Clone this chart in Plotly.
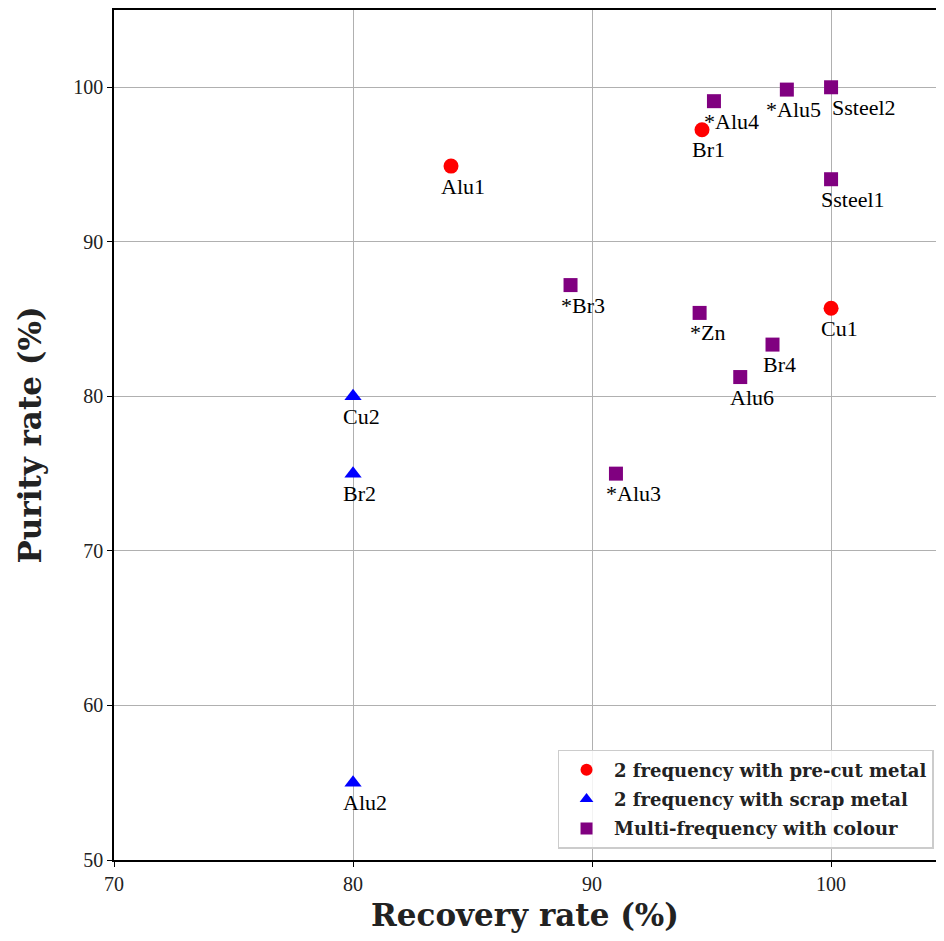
import plotly.graph_objects as go

# 2 frequency with pre-cut metal
precut_names = ["Alu1", "Br1", "Cu1"]
precut_recovery = [84.1, 94.6, 100.0]
precut_purity = [94.9, 97.25, 85.7]

# 2 frequency with scrap metal
scrap_names = ["Cu2", "Br2", "Alu2"]
scrap_recovery = [80.0, 80.0, 80.0]
scrap_purity = [80.0, 75.0, 55.0]

# Multi-frequency with colour
multi_names = ["*Alu4", "*Alu5", "Ssteel2", "Ssteel1", "*Br3", "*Zn", "Br4", "Alu6", "*Alu3"]
multi_recovery = [95.1, 98.15, 100.0, 100.0, 89.1, 94.5, 97.55, 96.2, 91.0]
multi_purity = [99.1, 99.85, 100.0, 94.05, 87.2, 85.4, 83.35, 81.25, 75.0]

x_ticks = [70, 80, 90, 100]
y_ticks = [50, 60, 70, 80, 90, 100]

# label nudges (pixels) for crowded labels
label_xshift = {"*Alu5": -23, "Ssteel2": -1}

SERIF = "Liberation Serif"
BOLD = "DejaVu Serif"

fig = go.Figure()
series = [
    (precut_names, precut_recovery, precut_purity, "circle", 15, "red", "2 frequency with pre-cut metal"),
    (scrap_names, scrap_recovery, scrap_purity, "triangle-up", 15, "blue", "2 frequency with scrap metal"),
    (multi_names, multi_recovery, multi_purity, "square", 14, "purple", "Multi-frequency with colour"),
]
for i, (names, xs, ys, sym, sz, col, nm) in enumerate(series):
    fig.add_trace(go.Scatter(
        x=xs, y=ys, mode="markers",
        marker=dict(symbol=sym, size=sz, color=col),
        name="<b>" + nm + "</b>", legendgroup="g%d" % i))
    for n, xv, yv in zip(names, xs, ys):
        fig.add_annotation(
            x=xv, y=yv, text=n, showarrow=False,
            xanchor="left", yanchor="middle",
            xshift=label_xshift.get(n, -12), yshift=-20,
            font=dict(family=SERIF, size=22, color="black"))

fig.update_layout(
    width=928, height=925,
    margin=dict(l=106, r=0, t=0, b=73),
    plot_bgcolor="white", paper_bgcolor="white",
    font=dict(family=SERIF, color="black"),
    legend=dict(
        x=0.997, y=0.013, xanchor="right", yanchor="bottom",
        bgcolor="rgba(255,255,255,0.85)", bordercolor="#cccccc", borderwidth=1.5,
        font=dict(family=BOLD, size=18, color="#222"),
        itemsizing="constant", itemwidth=45, tracegroupgap=3,
    ),
    xaxis=dict(
        range=[70, 104.39], tickvals=x_ticks,
        showgrid=True, gridcolor="#b0b0b0", gridwidth=1.2,
        showline=True, linecolor="black", linewidth=1.5, mirror=True,
        ticks="outside", ticklen=5, tickcolor="black",
        tickfont=dict(family=SERIF, size=20, color="#222"),
        title=dict(text="<b>Recovery rate (%)</b>", font=dict(family=BOLD, size=31, color="#222"), standoff=12),
        zeroline=False,
    ),
    yaxis=dict(
        range=[50, 105], tickvals=y_ticks,
        showgrid=True, gridcolor="#b0b0b0", gridwidth=1.2,
        showline=True, linecolor="black", linewidth=1.5, mirror=False,
        ticks="outside", ticklen=5, tickcolor="black",
        tickfont=dict(family=SERIF, size=20, color="#222"),
        title=dict(text="<b>Purity rate (%)</b>", font=dict(family=BOLD, size=31, color="#222"), standoff=22),
        zeroline=False,
    ),
)

fig.write_html("out.html")
